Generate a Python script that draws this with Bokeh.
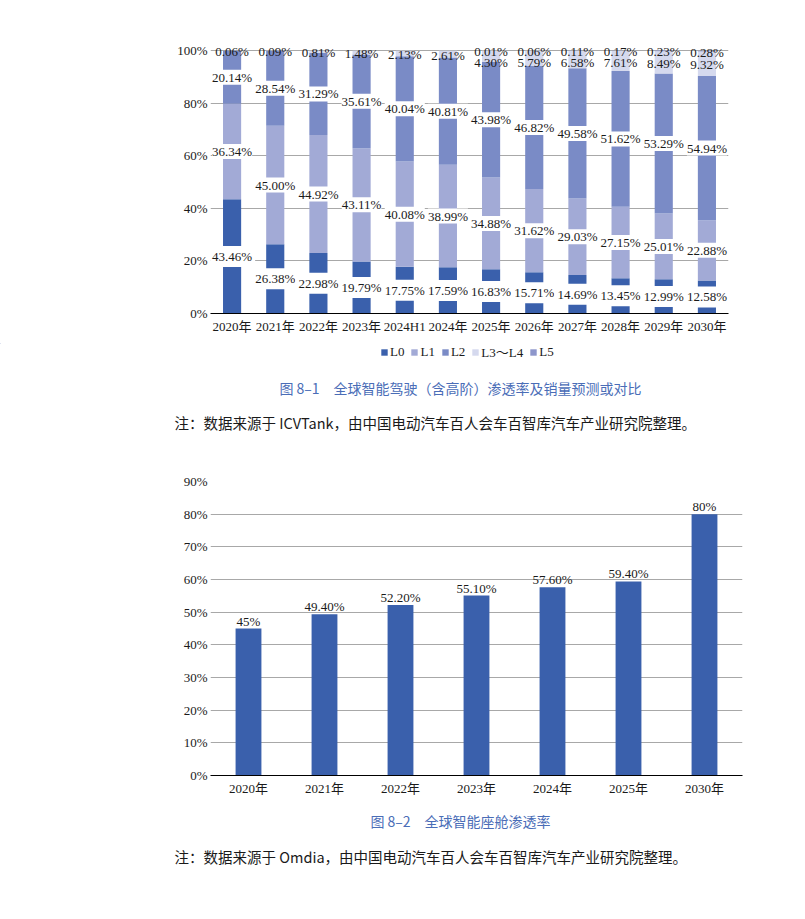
from bokeh.plotting import figure
from bokeh.models import (ColumnDataSource, FactorRange, Range1d, Legend, LegendItem,
                          FixedTicker, PrintfTickFormatter)
from bokeh.embed import file_html
from bokeh.resources import INLINE
from bokeh.core.properties import value

# ---------------- data: chart 8-1 ----------------
cats1 = ["2020年", "2021年", "2022年", "2023年", "2024H1", "2024年",
         "2025年", "2026年", "2027年", "2028年", "2029年", "2030年"]
levels = ["L0", "L1", "L2", "L3～L4", "L5"]
L0 = [43.46, 26.38, 22.98, 19.79, 17.75, 17.59, 16.83, 15.71, 14.69, 13.45, 12.99, 12.58]
L1 = [36.34, 45.00, 44.92, 43.11, 40.08, 38.99, 34.88, 31.62, 29.03, 27.15, 25.01, 22.88]
L2 = [20.14, 28.54, 31.29, 35.61, 40.04, 40.81, 43.98, 46.82, 49.58, 51.62, 53.29, 54.94]
L34 = [0.06, 0.09, 0.81, 1.48, 2.13, 2.61, 4.30, 5.79, 6.58, 7.61, 8.49, 9.32]
L5 = [None, None, None, None, None, None, 0.01, 0.06, 0.11, 0.17, 0.23, 0.28]
ticks1 = [0, 20, 40, 60, 80, 100]

# ---------------- data: chart 8-2 ----------------
cats2 = ["2020年", "2021年", "2022年", "2023年", "2024年", "2025年", "2030年"]
vals2 = [45, 49.4, 52.2, 55.1, 57.6, 59.4, 80]
text2 = ["45%", "49.40%", "52.20%", "55.10%", "57.60%", "59.40%", "80%"]
ticks2 = [0, 10, 20, 30, 40, 50, 60, 70, 80, 90]

title1 = "图 8–1　全球智能驾驶（含高阶）渗透率及销量预测或对比"
note1 = "注：数据来源于 ICVTank，由中国电动汽车百人会车百智库汽车产业研究院整理。"
title2 = "图 8–2　全球智能座舱渗透率"
note2 = "注：数据来源于 Omdia，由中国电动汽车百人会车百智库汽车产业研究院整理。"

# ---------------- styles ----------------
colors = ["#3A60AC", "#A2AAD6", "#7A8BC6", "#D5D9EE", "#8D96CB"]
SERIF = "Liberation Serif, Noto Sans CJK SC"
CJK = "Noto Sans CJK SC"
TXT = "#1a1a1a"
GRID = "#A8A8A8"
W = 789


def style_axes(p, ticks):
    p.yaxis.ticker = FixedTicker(ticks=ticks)
    p.ygrid.ticker = FixedTicker(ticks=ticks)
    p.yaxis.formatter = PrintfTickFormatter(format="%d%%")
    p.yaxis.axis_line_color = None
    p.yaxis.major_label_standoff = 3
    p.xaxis.axis_line_color = "black"
    p.xaxis.axis_line_width = 1.2
    p.xaxis.major_label_standoff = 5
    for ax in (p.xaxis, p.yaxis):
        ax.major_tick_line_color = None
        ax.minor_tick_line_color = None
        ax.major_tick_out = 0
        ax.major_tick_in = 0
        ax.minor_tick_out = 0
        ax.minor_tick_in = 0
        ax.major_label_text_font = SERIF
        ax.major_label_text_font_size = "13px"
        ax.major_label_text_color = TXT
    p.xgrid.grid_line_color = None
    p.ygrid.grid_line_color = GRID
    p.ygrid.grid_line_width = 1
    p.outline_line_color = None
    p.x_range.range_padding = 0


# ---------------- figure 1 ----------------
p1 = figure(x_range=FactorRange(*cats1), y_range=Range1d(0, 105),
            width=W, height=343, output_backend="svg", toolbar_location=None,
            min_border_left=210, min_border_right=W - 728, min_border_top=37,
            min_border_bottom=30)
style_axes(p1, ticks1)

stack_cols = ["v0", "v1", "v2", "v3", "v4"]
series = [L0, L1, L2, L34, L5]
src1 = ColumnDataSource(dict(cat=cats1, v0=L0, v1=L1, v2=L2, v3=L34,
                             v4=[v if v is not None else 0 for v in L5]))
rs = p1.vbar_stack(stack_cols, x="cat", width=0.42, fill_color=colors,
                   line_color=None, source=src1)

# labels at the middle of each segment
cum = [0.0] * len(cats1)
lab = {k: dict(cat=[], y=[], t=[]) for k in range(5)}
for k, vals in enumerate(series):
    for i, v in enumerate(vals):
        if v is None:
            continue
        mid = cum[i] + v / 2.0
        cum[i] += v
        if k == 3 and L5[i] is not None:
            mid = min(mid, 96.0)
        lab[k]["cat"].append(cats1[i])
        lab[k]["y"].append(mid)
        lab[k]["t"].append("%.2f%%" % v)

for k, pad in ((0, 3), (1, 0), (2, 0)):
    p1.text(x="cat", y="y", text="t", source=ColumnDataSource(lab[k]),
            text_align="center", text_baseline="middle",
            text_font=value(SERIF), text_font_size="13px", text_color=TXT,
            background_fill_color="white", padding=pad)
for k in (4, 3):
    p1.text(x="cat", y="y", text="t", source=ColumnDataSource(lab[k]),
            text_align="center", text_baseline="middle", y_offset=1,
            text_font=value(SERIF), text_font_size="13px", text_color=TXT)


# ---------------- caption figures ----------------
def caption_fig(h, title, ty, note, ny):
    c = figure(width=W, height=h, x_range=Range1d(0, W), y_range=Range1d(h, 0),
               output_backend="svg", toolbar_location=None, min_border=0,
               x_axis_type=None, y_axis_type=None)
    c.grid.visible = False
    c.outline_line_color = None
    c.text(x=[460], y=[ty], text=[title], text_align="center", text_baseline="middle",
           text_font=value(CJK), text_font_size="14px", text_color="#4A6DB7")
    c.text(x=[174], y=[ny], text=[note], text_align="left", text_baseline="middle",
           text_font=value(CJK), text_font_size="14.5px", text_color=TXT)
    return c


cap1 = caption_fig(102, title1, 44, note1, 79)
# legend swatches (renderers outside the visible range carrying the series colours)
swatches = [cap1.vbar(x=[-500], top=[-500], bottom=[-501], width=1,
                      fill_color=c, line_color=None) for c in colors]
legend = Legend(items=[LegendItem(label=lv, renderers=[r]) for lv, r in zip(levels, swatches)],
                orientation="horizontal", location=(380, 84),
                glyph_width=8, glyph_height=8, label_standoff=2, spacing=6,
                label_width=0, padding=0, margin=0, border_line_color=None,
                background_fill_alpha=0, label_text_font=SERIF,
                label_text_font_size="13px", label_text_color=TXT,
                label_height=13)
cap1.add_layout(legend)

# ---------------- figure 2 ----------------
p2 = figure(x_range=FactorRange(*cats2), y_range=Range1d(0, 90),
            width=W, height=360, output_backend="svg", toolbar_location=None,
            min_border_left=210, min_border_right=W - 742, min_border_top=36,
            min_border_bottom=30)
style_axes(p2, ticks2)
src2 = ColumnDataSource(dict(cat=cats2, v=vals2, t=text2))
p2.vbar(x="cat", top="v", width=0.34, fill_color="#3A60AC", line_color=None, source=src2)
p2.text(x="cat", y="v", text="t", source=src2, text_align="center",
        text_baseline="bottom", y_offset=0, text_font=value(SERIF),
        text_font_size="13px", text_color=TXT)

cap2 = caption_fig(75, title2, 15, note2, 51)

roots = [p1, cap1, p2, cap2]
open("out.html", "w").write(file_html(roots, INLINE))
